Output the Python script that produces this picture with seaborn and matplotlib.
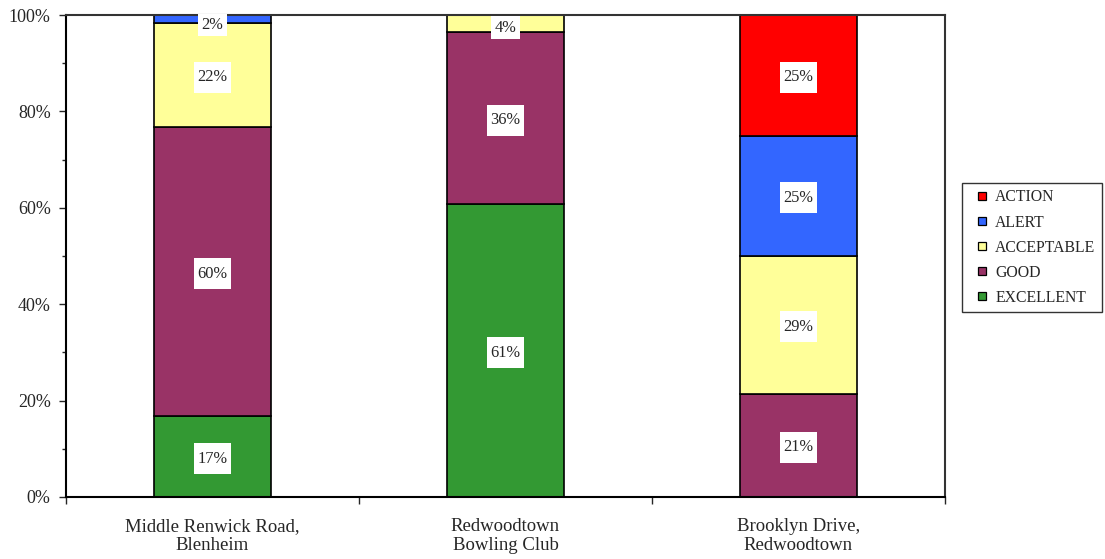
import numpy as np
import matplotlib
matplotlib.use("Agg")
import matplotlib.pyplot as plt
import seaborn as sns
from matplotlib.lines import Line2D
from matplotlib.ticker import MultipleLocator, FixedLocator, PercentFormatter

sites = ["Middle Renwick Road,\nBlenheim", "Redwoodtown\nBowling Club", "Brooklyn Drive,\nRedwoodtown"]
categories = ["EXCELLENT", "GOOD", "ACCEPTABLE", "ALERT", "ACTION"]
excellent = [16.7, 60.7, 0.0]
good = [60.0, 35.7, 21.4]
acceptable = [21.7, 3.6, 28.6]
alert = [1.7, 0.0, 25.0]
action = [0.0, 0.0, 25.0]
colors = ["#339933", "#993366", "#FFFF99", "#3366FF", "#FF0000"]

sns.set_style("white")
plt.rcParams["font.family"] = ["Liberation Serif", "DejaVu Serif"]

fig = plt.figure(figsize=(11.05, 5.59), dpi=100)
ax = fig.add_axes([0.0597, 0.111, 0.7955, 0.862])

series = [excellent, good, acceptable, alert, action]
bottom = np.zeros(len(sites))
for name, vals, col in zip(categories, series, colors):
    vals = np.array(vals)
    sns.barplot(x=sites, y=vals, bottom=bottom, color=col, width=0.4,
                edgecolor="black", linewidth=1.2, ax=ax, saturation=1)
    for i, v in enumerate(vals):
        if v > 0:
            yc = bottom[i] + v / 2
            small_top = bottom[i] + v >= 99.9 and v < 5
            if small_top:
                yc = 98.4 if v < 2 else 97.8
            ax.text(i, yc, f"{round(v):.0f}%", ha="center", va="center_baseline",
                    fontsize=11.8,
                    bbox=dict(boxstyle="square,pad=0.2", facecolor="white",
                              edgecolor="none",
                              mutation_aspect=1.0 if small_top else 2.3),
                    clip_on=False, zorder=5)
    bottom = bottom + vals

ax.set_xlim(-0.5, 2.5)
ax.set_ylim(0, 100)
ax.yaxis.set_major_locator(MultipleLocator(20))
ax.yaxis.set_minor_locator(MultipleLocator(10))
ax.yaxis.set_major_formatter(PercentFormatter(decimals=0))
ax.tick_params(axis="y", which="both", direction="out", left=True, length=5,
               width=1, labelsize=13, pad=6)
ax.tick_params(axis="y", which="minor", length=3)

ax.xaxis.set_major_locator(FixedLocator([-0.5, 0.5, 1.5, 2.5]))
ax.xaxis.set_minor_locator(FixedLocator([0, 1, 2]))
ax.set_xticklabels([], minor=False)
ax.set_xticklabels(sites, minor=True, fontsize=13.5, linespacing=1.2)
ax.tick_params(axis="x", which="major", direction="out", bottom=True, length=5, width=1)
ax.tick_params(axis="x", which="minor", bottom=True, length=0, pad=15)
ax.set_xlabel("")
ax.set_ylabel("")

for side in ["left", "bottom"]:
    ax.spines[side].set_color("black")
    ax.spines[side].set_linewidth(1.5)
for side in ["top", "right"]:
    ax.spines[side].set_color("#333333")
    ax.spines[side].set_linewidth(1.5)

handles = [Line2D([], [], linestyle="none", marker="s", markersize=6,
                  markerfacecolor=c, markeredgecolor="black", markeredgewidth=0.9,
                  label=n)
           for n, c in zip(categories[::-1], colors[::-1])]
leg = fig.legend(handles=handles, loc="center left", bbox_to_anchor=(0.8706, 0.557),
                 frameon=True, fancybox=False, fontsize=11.3, handlelength=1.7,
                 handletextpad=0.0, labelspacing=0.58, borderpad=0.42,
                 borderaxespad=0, edgecolor="black")
leg.get_frame().set_linewidth(1.0)

fig.savefig("out.png", dpi=100)
